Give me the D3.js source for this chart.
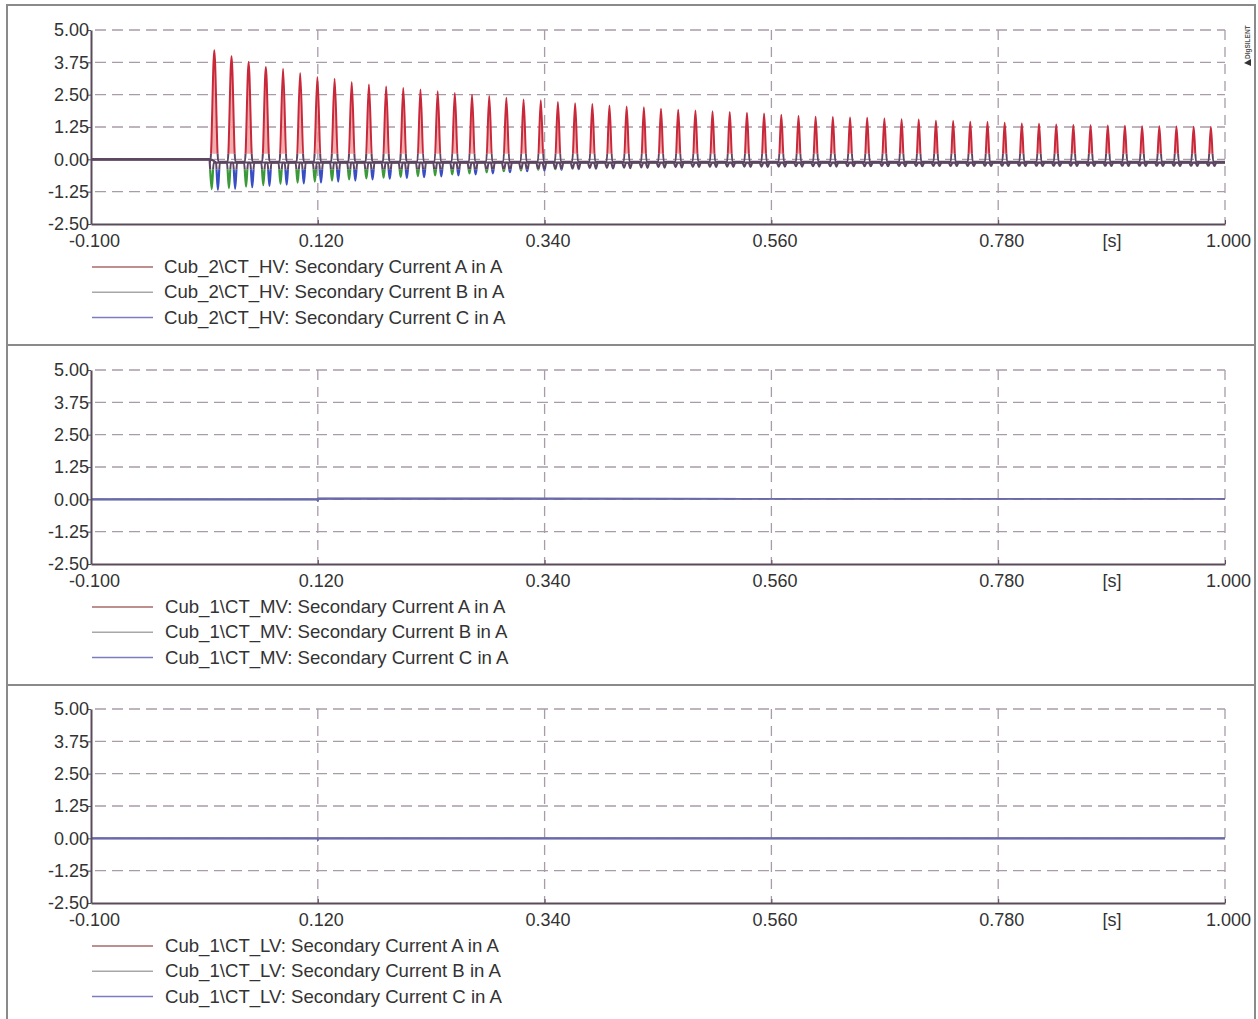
<!DOCTYPE html>
<html><head><meta charset="utf-8">
<script src="https://cdn.jsdelivr.net/npm/d3@7"></script>
<style>
body{margin:0;background:#fff}
text{font-family:"Liberation Sans",Arial,sans-serif}
</style>
</head><body>
<svg id="c" width="1258" height="1019"></svg>
<script>
// ---------------- DATA ----------------
const xTicks = [-0.1, 0.12, 0.34, 0.56, 0.78, 1.0];
const xTickLabels = ["-0.100", "0.120", "0.340", "0.560", "0.780", "1.000"];
const yTicks = [5, 3.75, 2.5, 1.25, 0, -1.25, -2.5];
const yTickLabels = ["5.00", "3.75", "2.50", "1.25", "0.00", "-1.25", "-2.50"];
const panelNames = ["Cub_2\\CT_HV", "Cub_1\\CT_MV", "Cub_1\\CT_LV"];
const phaseLabels = ["Secondary Current A in A", "Secondary Current B in A", "Secondary Current C in A"];

// HV panel: inrush pulses (time of each peak, s)
const cycleTime = [0.0196,0.0363,0.0529,0.0696,0.0863,0.1029,0.1196,0.1363,0.1529,0.1696,
  0.1863,0.2029,0.2196,0.2363,0.2529,0.2696,0.2863,0.3029,0.3196,0.3363,
  0.3529,0.3696,0.3863,0.4029,0.4196,0.4363,0.4529,0.4696,0.4863,0.5029,
  0.5196,0.5363,0.5529,0.5696,0.5863,0.6029,0.6196,0.6363,0.6529,0.6696,
  0.6863,0.7029,0.7196,0.7363,0.7529,0.7696,0.7863,0.8029,0.8196,0.8363,
  0.8529,0.8696,0.8863,0.9029,0.9196,0.9363,0.9529,0.9696,0.9863];
// phase A peak values (A)
const peakA = [4.22,3.99,3.76,3.57,3.50,3.34,3.18,3.12,2.99,2.89,
  2.82,2.76,2.70,2.63,2.56,2.50,2.45,2.38,2.31,2.28,
  2.22,2.17,2.14,2.08,2.04,2.01,1.96,1.92,1.89,1.86,
  1.83,1.80,1.77,1.72,1.68,1.65,1.64,1.62,1.61,1.58,
  1.55,1.54,1.49,1.48,1.45,1.44,1.41,1.39,1.38,1.35,
  1.33,1.32,1.31,1.30,1.28,1.28,1.27,1.26,1.25];
// half width of each A pulse (ms)
const halfWidthA = [3.8,3.7,3.6,3.5,3.4,3.4,3.3,3.3,3.2,3.2,
  3.1,3.1,3.0,3.0,3.0,2.9,2.9,2.9,2.8,2.8,
  2.8,2.7,2.7,2.7,2.7,2.6,2.6,2.6,2.6,2.5,
  2.5,2.5,2.5,2.5,2.4,2.4,2.4,2.4,2.4,2.4,
  2.3,2.3,2.3,2.3,2.3,2.3,2.3,2.3,2.3,2.3,
  2.3,2.3,2.3,2.3,2.3,2.3,2.3,2.3,2.3];
// phase B / C negative pulse minima (A)
const minB = [-1.15,-1.12,-1.06,-1.00,-0.95,-0.90,-0.86,-0.82,-0.78,-0.74,
  -0.71,-0.68,-0.65,-0.62,-0.58,-0.54,-0.50,-0.46,-0.43,-0.40,
  -0.38,-0.36,-0.34,-0.33,-0.32,-0.31,-0.30,-0.30,-0.29,-0.29,
  -0.28,-0.28,-0.28,-0.28,-0.27,-0.27,-0.27,-0.27,-0.27,-0.26,
  -0.26,-0.26,-0.26,-0.26,-0.26,-0.25,-0.25,-0.25,-0.25,-0.25,
  -0.25,-0.25,-0.25,-0.25,-0.25,-0.25,-0.25,-0.25,-0.25];
const minC = [-1.18,-1.14,-1.08,-1.03,-0.98,-0.93,-0.90,-0.86,-0.82,-0.78,
  -0.75,-0.72,-0.69,-0.66,-0.62,-0.58,-0.54,-0.50,-0.46,-0.43,
  -0.40,-0.38,-0.36,-0.35,-0.34,-0.33,-0.32,-0.31,-0.30,-0.30,
  -0.29,-0.29,-0.29,-0.28,-0.28,-0.28,-0.28,-0.27,-0.27,-0.27,
  -0.27,-0.27,-0.26,-0.26,-0.26,-0.26,-0.26,-0.26,-0.26,-0.26,
  -0.26,-0.26,-0.26,-0.26,-0.26,-0.26,-0.26,-0.26,-0.26];
const phaseOffsetMs = [0, -2.5, 3.5];      // B, C pulse offsets from A peak
const negHalfWidthMs = 1.9;
const baseLevel = [-0.10, -0.13, -0.12];   // A, B, C between pulses
const energizeTime = 0.0150;

// MV and LV panels (all phases overlapping near zero)
const mvTime = [-0.1, 0.1195, 0.1200, 0.1205, 1.0];
const mvValue = [0.0, 0.0, -0.08, 0.03, 0.02];
const lvTime = [-0.1, 0.1195, 0.1200, 0.1205, 1.0];
const lvValue = [0.0, 0.0, -0.05, 0.0, 0.0];

// ---------------- STYLE ----------------
const phaseColors = ["#c8283a", "#3a9a3a", "#3a4ec4"];
const pulseFill = "#ec9a9a";
const legendColors = ["#a86a6a", "#a8a8a8", "#7c7cc0"];
const bandColor = "#5d4662";
const flatColor = "#6a6aaa";
const gridColor = "#a99ca9";
const axisColor = "#5a4a5a";
const textColor = "#333";
const fontSize = 18.6;

const svg = d3.select("#c");
const plotLeft = 91, plotRight = 1225, plotH = 194;
const panelTops = [30, 370, 709];

// frame
svg.append("rect").attr("x", 7).attr("y", 5).attr("width", 1248).attr("height", 1020)
  .attr("fill", "none").attr("stroke", "#8a8a8a").attr("stroke-width", 2);
[345, 685].forEach(y => svg.append("line").attr("x1", 7).attr("x2", 1255).attr("y1", y).attr("y2", y)
  .attr("stroke", "#8a8a8a").attr("stroke-width", 2));

// DIgSILENT mark
svg.append("text").attr("transform", "translate(1250,59) rotate(-90)")
  .attr("font-size", 6.5).attr("font-weight", "bold").attr("fill", "#555").text("DIgSILENT");
svg.append("path").attr("d", "M1244,63 L1251,59 L1251,66 Z").attr("fill", "#333");

const x = d3.scaleLinear().domain([-0.1, 1.0]).range([plotLeft, plotRight]);

// build HV series
function buildA() {
  const pts = [[-0.1, 0], [energizeTime, 0]];
  cycleTime.forEach((t, i) => {
    const hw = halfWidthA[i] / 1000;
    pts.push([t - hw, baseLevel[0]], [t, peakA[i]], [t + hw, baseLevel[0]]);
  });
  pts.push([1.0, baseLevel[0]]);
  return pts;
}
function buildNeg(mins, off, base) {
  const pts = [[-0.1, 0], [energizeTime, 0]];
  cycleTime.forEach((t, i) => {
    const tc = t + off / 1000, hw = negHalfWidthMs / 1000;
    pts.push([tc - hw, base], [tc, mins[i]], [tc + hw, base]);
  });
  pts.push([1.0, base]);
  return pts;
}
const hvSeries = [buildA(), buildNeg(minB, phaseOffsetMs[1], baseLevel[1]), buildNeg(minC, phaseOffsetMs[2], baseLevel[2])];

panelTops.forEach((top, p) => {
  const y = d3.scaleLinear().domain([-2.5, 5]).range([top + plotH, top]);
  const g = svg.append("g");

  // grid
  yTicks.filter(v => v > -2.5).forEach(v => {
    g.append("line").attr("x1", plotLeft + 4).attr("x2", plotRight).attr("y1", y(v)).attr("y2", y(v))
      .attr("stroke", gridColor).attr("stroke-width", 1.3).attr("stroke-dasharray", "11,6");
  });
  xTicks.filter(v => v > -0.1).forEach(v => {
    g.append("line").attr("x1", x(v)).attr("x2", x(v)).attr("y1", top).attr("y2", top + plotH)
      .attr("stroke", gridColor).attr("stroke-width", 1.3).attr("stroke-dasharray", "10,7");
  });

  // clip regions
  const band = [y(0.22), y(-0.38)];
  const cidOut = "out" + p, cidBand = "band" + p;
  const defs = svg.append("defs");
  const co = defs.append("clipPath").attr("id", cidOut);
  co.append("rect").attr("x", plotLeft).attr("y", top - 5).attr("width", plotRight - plotLeft + 2).attr("height", band[0] - top + 5);
  co.append("rect").attr("x", plotLeft).attr("y", band[1]).attr("width", plotRight - plotLeft + 2).attr("height", top + plotH - band[1]);
  defs.append("clipPath").attr("id", cidBand).append("rect")
    .attr("x", plotLeft).attr("y", band[0]).attr("width", plotRight - plotLeft + 2).attr("height", band[1] - band[0]);

  const line = d3.line().x(d => x(d[0])).y(d => y(d[1])).curve(d3.curveMonotoneX);

  if (p === 0) {
    // light fill inside A pulses
    const area = d3.area().x(d => x(d[0])).y0(y(baseLevel[0])).y1(d => y(Math.max(d[1], baseLevel[0]))).curve(d3.curveMonotoneX);
    g.append("path").attr("d", area(hvSeries[0])).attr("fill", pulseFill).attr("fill-opacity", 0.8)
      .attr("clip-path", `url(#${cidOut})`);
    const order = [2, 1, 0];
    order.forEach(k => {
      g.append("path").attr("d", line(hvSeries[k])).attr("fill", "none")
        .attr("stroke", phaseColors[k]).attr("stroke-width", k === 0 ? 2.0 : 2.2)
        .attr("clip-path", `url(#${cidOut})`);
    });
    order.forEach(k => {
      g.append("path").attr("d", line(hvSeries[k])).attr("fill", "none")
        .attr("stroke", bandColor).attr("stroke-width", 2.1)
        .attr("clip-path", `url(#${cidBand})`);
    });
  } else {
    const tt = p === 1 ? mvTime : lvTime, vv = p === 1 ? mvValue : lvValue;
    const pts = tt.map((t, i) => [t, vv[i]]);
    [0, 1, 2].forEach(k => {
      g.append("path").attr("d", d3.line().x(d => x(d[0])).y(d => y(d[1]))(pts)).attr("fill", "none")
        .attr("stroke", flatColor).attr("stroke-width", 1.6);
    });
  }

  // axes
  const ya = d3.axisLeft(y).tickValues(yTicks).tickFormat((d, i) => yTickLabels[i]).tickSize(3).tickPadding(0).tickSizeOuter(0);
  const yg = svg.append("g").attr("transform", `translate(${plotLeft},0)`).call(ya);
  yg.select(".domain").attr("stroke", axisColor).attr("stroke-width", 2);
  yg.selectAll(".tick line").attr("stroke", axisColor);
  yg.selectAll(".tick text").attr("font-size", 18).attr("fill", textColor)
    .attr("font-family", "Liberation Sans, Arial, sans-serif").attr("x", -2);

  const xa = d3.axisBottom(x).tickValues(xTicks).tickFormat((d, i) => xTickLabels[i]).tickSize(-4).tickPadding(10).tickSizeOuter(0);
  const xg = svg.append("g").attr("transform", `translate(0,${top + plotH})`).call(xa);
  xg.select(".domain").attr("stroke", axisColor).attr("stroke-width", 2);
  xg.selectAll(".tick line").attr("stroke", axisColor);
  xg.selectAll(".tick text").attr("font-size", 18).attr("fill", textColor)
    .attr("font-family", "Liberation Sans, Arial, sans-serif").attr("dx", 3);
  svg.append("text").attr("x", 1112).attr("y", top + plotH + 23).attr("text-anchor", "middle")
    .attr("font-size", 18).attr("fill", textColor).text("[s]");

  // legend
  phaseLabels.forEach((lab, k) => {
    const ly = top + plotH + 43 + k * 25.3;
    svg.append("line").attr("x1", 92).attr("x2", 153).attr("y1", ly).attr("y2", ly)
      .attr("stroke", legendColors[k]).attr("stroke-width", 1.5);
    svg.append("text").attr("x", p === 0 ? 164 : 165).attr("y", ly + 6).attr("font-size", fontSize).attr("fill", textColor)
      .text(panelNames[p] + ": " + lab);
  });
});
</script>
</body></html>
